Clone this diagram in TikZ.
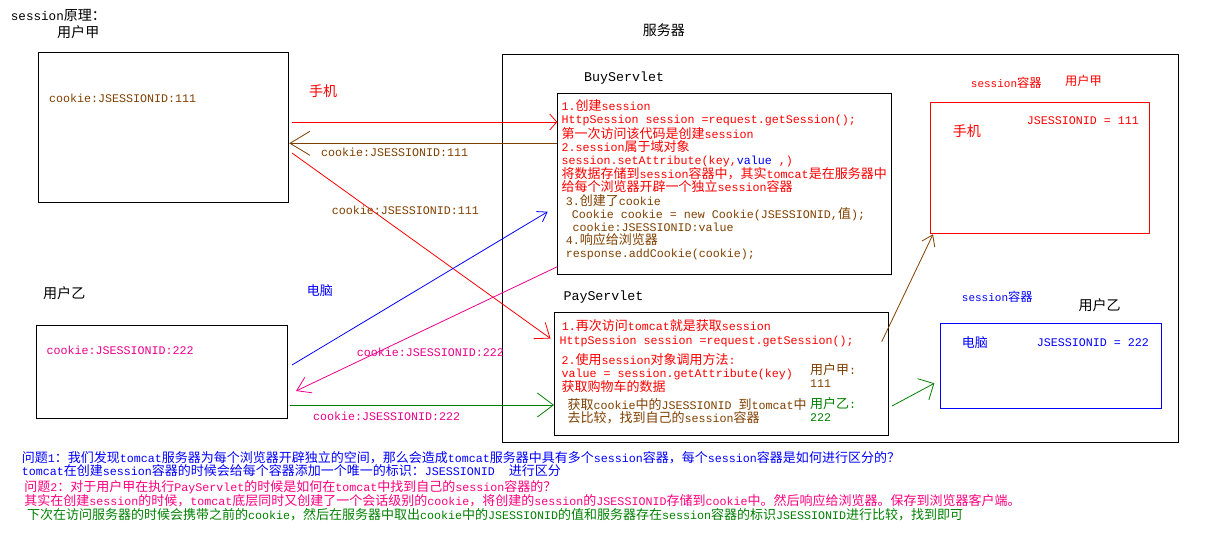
\documentclass[tikz,border=0pt]{standalone}
\usepackage{fontspec}
\usetikzlibrary{arrows.meta}
\setmainfont{Liberation Mono}
\newfontfamily\cjkfont[Scale=1.114]{Noto Sans CJK SC}
% switch to the CJK face for Chinese characters
\XeTeXinterchartokenstate=1
\newXeTeXintercharclass\cjkclass
\makeatletter
\newcommand\cjkrange[2]{\count@=#1\relax
  \loop\XeTeXcharclass\count@=\cjkclass
  \ifnum\count@<#2\relax\advance\count@ by 1\repeat}
\makeatother
\cjkrange{"3000}{"303F}
\cjkrange{"4E00}{"9FFF}
\cjkrange{"FF00}{"FFEF}
\XeTeXinterchartoks 0 \cjkclass = {\cjkfont}
\XeTeXinterchartoks 4095 \cjkclass = {\cjkfont}
\XeTeXinterchartoks \cjkclass 0 = {\rmfamily}
\XeTeXinterchartoks \cjkclass 4095 = {\rmfamily}
\definecolor{cbrown}{RGB}{128,64,0}
\definecolor{cgreen}{RGB}{0,128,0}
\definecolor{cpink}{RGB}{255,0,128}

\begin{document}
\begin{tikzpicture}[x=1pt,y=-1pt,
  rbox/.style={draw,line width=1pt,inner sep=0pt,anchor=north west},
  txt/.style={font=\fontsize{11.67}{13}\selectfont,inner sep=0pt,anchor=west},
  blk/.style={txt,align=left,anchor=north west},
  ttl/.style={font=\fontsize{12.6}{14}\selectfont,inner sep=0pt,anchor=west},
  sml/.style={font=\fontsize{11}{12}\selectfont,inner sep=0pt,anchor=west},
  srv/.style={font=\fontsize{13.33}{15}\selectfont,inner sep=0pt,anchor=west},
  conn/.style 2 args={line width=0.8pt,-{Straight Barb[length=#1,width=#2]}}]
\fill[white] (0,0) rectangle (1218,546);
\useasboundingbox (0,0) rectangle (1218,546);

% titles
\node[ttl] (title) at (10.7,15) {session原理：};
\node[ttl] (nameA) at (57,32.3) {用户甲};
\node[ttl] (nameB) at (43,293.3) {用户乙};
\node[ttl] (nameS) at (642.7,30) {服务器};

% browsers
\node[rbox,minimum width=250pt,minimum height=150.6pt] (userA) at (38.2,51.7) {};
\node[rbox,minimum width=250.4pt,minimum height=93pt] (userB) at (36.4,325.3) {};
\node[txt,cbrown] (ckA) at (49,98.7) {cookie:JSESSIONID:111};
\node[txt,magenta] (ckB) at (46.4,350) {cookie:JSESSIONID:222};

% server
\node[rbox,minimum width=676.6pt,minimum height=388pt] (server) at (501.7,54.3) {};
\node[rbox,minimum width=334pt,minimum height=180.7pt] (buy) at (557.3,93.3) {};
\node[rbox,minimum width=334.3pt,minimum height=122.7pt] (pay) at (554,312.3) {};
\node[srv] (buyT) at (584,78.3) {BuyServlet};
\node[srv] (payT) at (563.3,296.7) {PayServlet};

\node[blk,red] (buy1) at (561.5,99.5) {1.创建session\\
HttpSession session =request.getSession();\\
第一次访问该代码是创建session\\
2.session属于域对象\\
session.setAttribute(key,{\color{blue}value} ,)\\
将数据存储到session容器中，其实tomcat是在服务器中\\
给每个浏览器开辟一个独立session容器};
\node[blk,cbrown] (buy2) at (565.7,194.5) {3.创建了cookie\\
\hspace*{6pt}Cookie cookie = new Cookie(JSESSIONID,值);\\
\hspace*{6.6pt}cookie:JSESSIONID:value\\
4.响应给浏览器\\
response.addCookie(cookie);};

\node[txt,red] (pay1) at (561.7,325.7) {1.再次访问tomcat就是获取session};
\node[txt,red] (pay2) at (559.3,341) {HttpSession session =request.getSession();};
\node[blk,red,font=\fontsize{11.67}{12.7}\selectfont] (pay3) at (561.5,353.5)
  {2.使用session对象调用方法:\\value = session.getAttribute(key)\\获取购物车的数据};
\node[blk,cbrown,font=\fontsize{11.67}{11.7}\selectfont] (pay4) at (567.3,398.5)
  {获取cookie中的JSESSIONID 到tomcat中\\去比较，找到自己的session容器};
\node[blk,cbrown,font=\fontsize{11.67}{13.3}\selectfont] (idA) at (810,363.5) {用户甲:\\111};
\node[blk,cgreen,font=\fontsize{11.67}{12.7}\selectfont] (idB) at (810,397.5) {用户乙:\\222};

% session containers
\node[rbox,draw=red,minimum width=219.3pt,minimum height=131pt] (sessA) at (930,102.3) {};
\node[rbox,draw=blue,minimum width=220.7pt,minimum height=85pt] (sessB) at (940,323.3) {};
\node[sml,red] (sessAT) at (970.7,83.3) {session容器};
\node[sml,red] (sessAN) at (1065,81) {用户甲};
\node[txt,red] (sessAid) at (1026.7,121) {JSESSIONID = 111};
\node[ttl,red] (sessAd) at (952.7,131) {手机};
\node[sml,blue] (sessBT) at (961.7,296.7) {session容器};
\node[ttl] (sessBN) at (1078.3,305) {用户乙};
\node[txt,blue] (sessBd) at (961.7,342.3) {电脑};
\node[txt,blue] (sessBid) at (1036.7,342.7) {JSESSIONID = 222};

% connectors
\coordinate (a1) at (292,122);
\coordinate (a2) at (0,143.3);
\coordinate (a3) at (292,153);
\coordinate (a3e) at (550.5,338.5);
\coordinate (b1) at (292,365);
\coordinate (b1e) at (547.7,211.7);
\coordinate (b2) at (557.3,266.7);
\coordinate (b2e) at (296,391);
\coordinate (b3) at (290,405);
\coordinate (s1) at (881.7,341.7);
\coordinate (s2) at (892,406);
\coordinate (s2e) at (934.3,383.3);
\draw[conn={7pt}{16pt},red] (a1) -- (a1 -| buy.west);
\draw[conn={20pt}{24pt},cbrown] (buy.west |- a2) -- (userA.east |- a2);
\draw[conn={13pt}{20pt},red] (a3) -- (a3e);
\draw[conn={9pt}{12pt},blue] (b1) -- (b1e);
\draw[conn={13pt}{17pt},magenta] (b2) -- (b2e);
\draw[conn={16pt}{24pt},cgreen] (b3) -- (b3 -| pay.west);
\draw[conn={10pt}{14pt},cbrown] (s1) -- ([xshift=3pt]sessA.south west);
\draw[conn={12pt}{24pt},cgreen] (s2) -- (s2e);

% connector labels
\node[ttl,red] (phone) at (309,90.7) {手机};
\node[txt,blue] (pc) at (306.7,290.7) {电脑};
\node[txt,cbrown] (l1) at (321,152.7) {cookie:JSESSIONID:111};
\node[txt,cbrown] (l2) at (331.7,210.7) {cookie:JSESSIONID:111};
\node[txt,magenta] (l3) at (356.7,352.7) {cookie:JSESSIONID:222};
\node[txt,magenta] (l4) at (313,416) {cookie:JSESSIONID:222};

% notes
\node[blk,blue,font=\fontsize{11.67}{13.3}\selectfont] (q1) at (21.7,451.2)
  {问题1：我们发现tomcat服务器为每个浏览器开辟独立的空间，那么会造成tomcat服务器中具有多个session容器，每个session容器是如何进行区分的？\\
tomcat在创建session容器的时候会给每个容器添加一个唯一的标识：JSESSIONID\ \ 进行区分};
\node[blk,cpink,font=\fontsize{11.67}{14.3}\selectfont] (q2) at (24.2,480.2)
  {问题2：对于用户甲在执行PayServlet的时候是如何在tomcat中找到自己的session容器的？\\
其实在创建session的时候，tomcat底层同时又创建了一个会话级别的cookie，将创建的session的JSESSIONID存储到cookie中。然后响应给浏览器。保存到浏览器客户端。};
\node[txt,cgreen] (q3) at (26.9,514.3)
  {下次在访问服务器的时候会携带之前的cookie，然后在服务器中取出cookie中的JSESSIONID的值和服务器存在session容器的标识JSESSIONID进行比较，找到即可};
\end{tikzpicture}
\end{document}
